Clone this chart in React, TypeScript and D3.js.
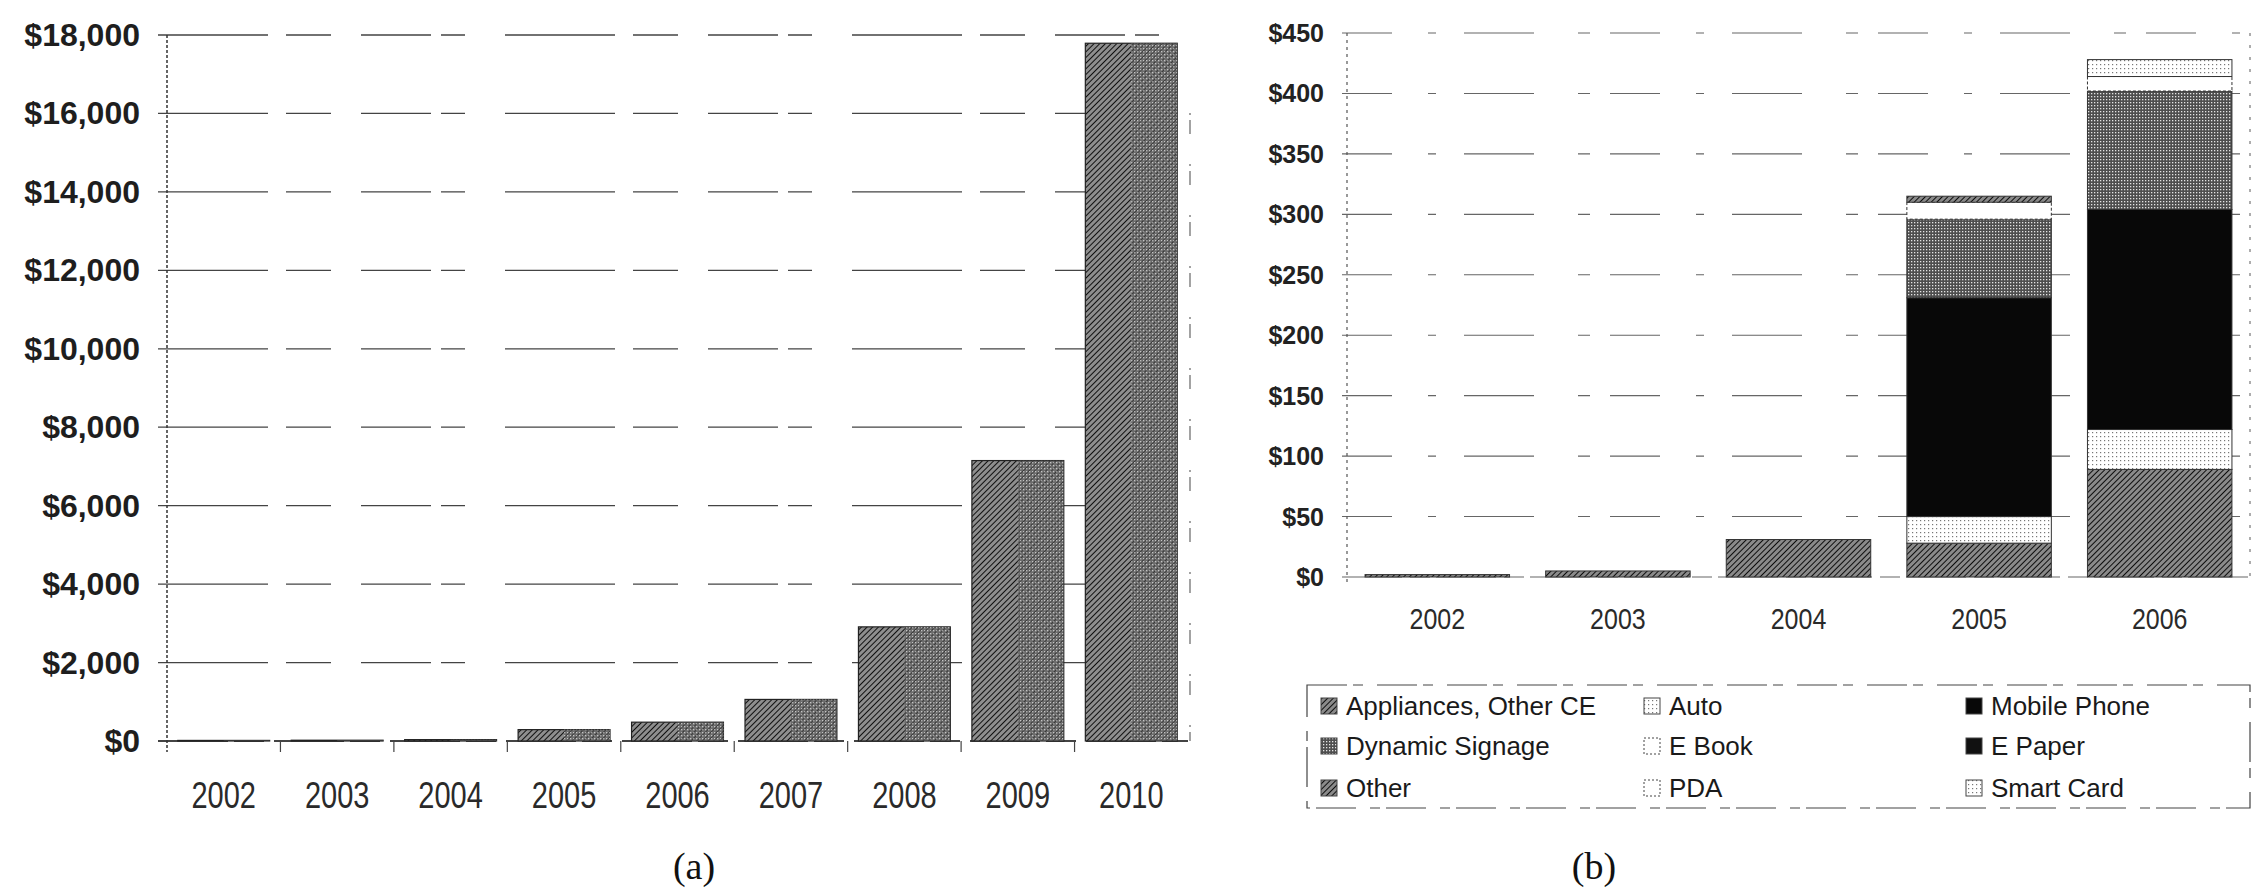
import React from "react";
import * as d3 from "d3";

// ---- chart (a) data: total revenue by year
const yearsA = ["2002", "2003", "2004", "2005", "2006", "2007", "2008", "2009", "2010"];
const revenueA = [15, 20, 35, 290, 480, 1060, 2910, 7150, 17790];
const ticksA = [0, 2000, 4000, 6000, 8000, 10000, 12000, 14000, 16000, 18000];

// ---- chart (b) data: revenue by application, stacked
const yearsB = ["2002", "2003", "2004", "2005", "2006"];
const seriesB = [
  "Appliances, Other CE",
  "Auto",
  "Mobile Phone",
  "Dynamic Signage",
  "E Book",
  "E Paper",
  "Other",
  "PDA",
  "Smart Card",
];
const appliances = [2, 5, 31, 28, 89];
const auto = [0, 0, 0, 22, 33];
const mobilePhone = [0, 0, 0, 181, 182];
const dynamicSignage = [0, 0, 0, 65, 98];
const eBook = [0, 0, 0, 14, 12];
const ePaper = [0, 0, 0, 0, 0];
const other = [0, 0, 0, 5, 0];
const pda = [0, 0, 0, 0, 0];
const smartCard = [0, 0, 0, 0, 14];
const ticksB = [0, 50, 100, 150, 200, 250, 300, 350, 400, 450];

const valuesB = [appliances, auto, mobilePhone, dynamicSignage, eBook, ePaper, other, pda, smartCard];

const fillsB = [
  "url(#hatchDark)",
  "url(#dotsLight)",
  "#080808",
  "url(#gridGray)",
  "#ffffff",
  "#111111",
  "url(#hatchDark)",
  "#ffffff",
  "url(#dotsLight)",
];

const sans = "'Liberation Sans', Arial, sans-serif";
const serif = "'Liberation Serif', 'Times New Roman', serif";

export default function App() {
  // chart (a) scales
  const xA = d3.scaleBand().domain(yearsA).range([167, 1188]).paddingInner(0.19).paddingOuter(0.095);
  const yA = d3.scaleLinear().domain([0, 18000]).range([741, 35]);
  const fmtA = (v: number) => "$" + d3.format(",")(v);

  // chart (b) scales
  const xB = d3.scaleBand().domain(yearsB).range([1347, 2250]).paddingInner(0.2).paddingOuter(0.1);
  const yB = d3.scaleLinear().domain([0, 450]).range([577, 33]);

  const tableB = yearsB.map((yr, i) => {
    const row: any = { year: yr };
    seriesB.forEach((s, k) => (row[s] = valuesB[k][i]));
    return row;
  });
  const stacked = d3.stack().keys(seriesB)(tableB);

  const boundsA = yearsA.map((_, i) => 167 + i * (1021 / yearsA.length));

  return (
    <svg
      width={2262}
      height={890}
      style={{ position: "absolute", left: 0, top: 0, background: "#fff" }}
    >
      <defs>
        <pattern id="hatchA" width="4" height="4" patternUnits="userSpaceOnUse" patternTransform="rotate(45)">
          <rect width="4" height="4" fill="#8e8e8e" />
          <line x1="0" y1="0" x2="0" y2="4" stroke="#101010" strokeWidth="2" />
        </pattern>
        <pattern id="gridA" width="3" height="3" patternUnits="userSpaceOnUse">
          <rect width="3" height="3" fill="#555" />
          <rect width="1.3" height="1.3" fill="#e8e8e8" />
        </pattern>
        <pattern id="hatchDark" width="4" height="4" patternUnits="userSpaceOnUse" patternTransform="rotate(45)">
          <rect width="4" height="4" fill="#8a8a8a" />
          <line x1="0" y1="0" x2="0" y2="4" stroke="#0e0e0e" strokeWidth="2" />
        </pattern>
        <pattern id="gridGray" width="3" height="3" patternUnits="userSpaceOnUse">
          <rect width="3" height="3" fill="#4e4e4e" />
          <rect width="1.3" height="1.3" fill="#e4e4e4" />
        </pattern>
        <pattern id="dotsLight" width="4" height="4" patternUnits="userSpaceOnUse">
          <rect width="4" height="4" fill="#ffffff" />
          <rect width="1.2" height="1.2" fill="#777" />
        </pattern>
      </defs>

      {/* ================= chart (a) ================= */}
      <g>
        {ticksA.map((t) => (
          <g key={t}>
            <line
              x1={158}
              x2={1188}
              y1={yA(t)}
              y2={yA(t)}
              stroke="#444"
              strokeWidth={t === 0 ? 1.8 : 1.3}
              strokeDasharray={t === 0 ? "70 6 30 10" : "110 18 45 30 70 10 24 40"}
            />
            <text
              x={140}
              y={yA(t)}
              textAnchor="end"
              dominantBaseline="central"
              fontFamily={sans}
              fontWeight="bold"
              fontSize={32}
              fill="#1e1e1e"
            >
              {fmtA(t)}
            </text>
          </g>
        ))}
        <line x1={167} x2={167} y1={35} y2={752} stroke="#333" strokeWidth={1.5} strokeDasharray="3 2" />
        <line x1={1190} x2={1190} y1={113} y2={741} stroke="#666" strokeWidth={1.2} strokeDasharray="2 5 14 30" />
        {boundsA.slice(1).map((b, i) => (
          <line key={i} x1={b} x2={b} y1={741} y2={752} stroke="#444" strokeWidth={1.2} />
        ))}
        {yearsA.map((yr, i) => (
          <g key={yr}>
            <rect
              x={xA(yr)}
              y={yA(revenueA[i])}
              width={xA.bandwidth()}
              height={741 - yA(revenueA[i])}
              fill="url(#hatchA)"
              stroke="#222"
              strokeWidth={1.2}
            />
            <rect
              x={(xA(yr) as number) + xA.bandwidth() * 0.5}
              y={yA(revenueA[i])}
              width={xA.bandwidth() * 0.5}
              height={741 - yA(revenueA[i])}
              fill="url(#gridA)"
              opacity={0.6}
            />
            <text
              transform={`translate(${(xA(yr) as number) + xA.bandwidth() / 2},795) scale(1,1.25)`}
              textAnchor="middle"
              dominantBaseline="central"
              fontFamily={sans}
              fontSize={29}
              fill="#2a2a2a"
            >
              {yr}
            </text>
          </g>
        ))}
        <text x={694} y={866} textAnchor="middle" dominantBaseline="central" fontFamily={serif} fontSize={38} fill="#111">
          (a)
        </text>
      </g>

      {/* ================= chart (b) ================= */}
      <g>
        {ticksB.map((t) => (
          <g key={t}>
            <line
              x1={1342}
              x2={2250}
              y1={yB(t)}
              y2={yB(t)}
              stroke="#666"
              strokeWidth={1.1}
              strokeDasharray={t === 0 ? "60 8 20 6" : "50 36 8 28 70 44 12 20"}
            />
            <text
              x={1324}
              y={yB(t)}
              textAnchor="end"
              dominantBaseline="central"
              fontFamily={sans}
              fontWeight="bold"
              fontSize={25}
              fill="#222"
            >
              {"$" + t}
            </text>
          </g>
        ))}
        <line x1={1347} x2={1347} y1={33} y2={582} stroke="#555" strokeWidth={1.2} strokeDasharray="3 4" />
        <line x1={2250} x2={2250} y1={33} y2={577} stroke="#777" strokeWidth={1.2} strokeDasharray="3 9" />
        {stacked.map((layer, k) => (
          <g key={seriesB[k]}>
            {layer.map((d, i) =>
              d[1] - d[0] > 0 ? (
                <rect
                  key={i}
                  x={xB(yearsB[i])}
                  y={yB(d[1])}
                  width={xB.bandwidth()}
                  height={yB(d[0]) - yB(d[1])}
                  fill={fillsB[k]}
                  stroke="#333"
                  strokeWidth={1}
                  strokeDasharray={fillsB[k] === "#ffffff" ? "3 2" : undefined}
                />
              ) : null
            )}
          </g>
        ))}
        {yearsB.map((yr) => (
          <text
            key={yr}
            transform={`translate(${(xB(yr) as number) + xB.bandwidth() / 2},619) scale(1,1.15)`}
            textAnchor="middle"
            dominantBaseline="central"
            fontFamily={sans}
            fontSize={25}
            fill="#2a2a2a"
          >
            {yr}
          </text>
        ))}

        {/* legend */}
        <rect x={1307} y={685} width={943} height={123} fill="none" stroke="#444" strokeWidth={1.2} strokeDasharray="40 6 10 14" />
        {seriesB.map((s, i) => {
          const col = i % 3;
          const row = Math.floor(i / 3);
          const sx = [1321, 1644, 1966][col];
          const cy = [706, 746, 788][row];
          return (
            <g key={s}>
              <rect
                x={sx}
                y={cy - 8}
                width={16}
                height={16}
                fill={fillsB[i]}
                stroke="#444"
                strokeWidth={1}
                strokeDasharray={fillsB[i] === "#ffffff" ? "2 2" : undefined}
              />
              <text
                x={sx + 25}
                y={cy}
                dominantBaseline="central"
                fontFamily={sans}
                fontSize={26}
                fill="#1a1a1a"
              >
                {s}
              </text>
            </g>
          );
        })}
        <text x={1594} y={866} textAnchor="middle" dominantBaseline="central" fontFamily={serif} fontSize={38} fill="#111">
          (b)
        </text>
      </g>
    </svg>
  );
}
